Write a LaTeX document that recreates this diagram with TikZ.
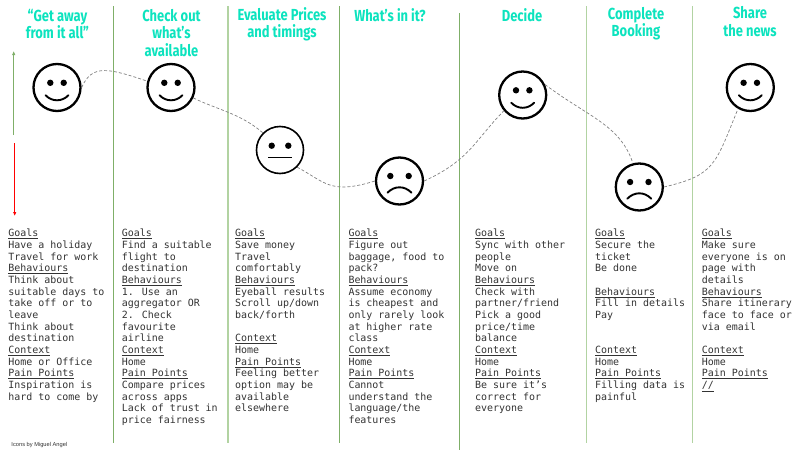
\documentclass[tikz,border=0pt]{standalone}
\usepackage{fontspec}
\usepackage{tikz}
\usetikzlibrary{arrows.meta}
\newfontfamily\titlefont[FakeStretch=0.81]{Fira Sans Bold}
\newfontfamily\bodyfont{DejaVu Sans Mono}
\setmainfont{Liberation Sans}
\definecolor{headcolor}{HTML}{0CE3BE}
\definecolor{ruledark}{HTML}{7FAF68}
\definecolor{rulelight}{HTML}{B2D3A2}
\definecolor{inktext}{HTML}{333333}
\newcommand{\hd}[1]{\underline{#1}}
\tikzset{
    stagetitle/.style={font=\titlefont\fontsize{16}{17.3}\selectfont, text=headcolor, align=center, inner sep=0pt},
    stagetext/.style={font=\bodyfont\fontsize{9.96}{11.67}\selectfont, text=inktext, align=left, anchor=north west, inner sep=0pt},
    facebase/.style={circle, draw=black, line width=2.3pt, minimum size=47pt, inner sep=0pt},
    happyface/.style={facebase, path picture={
        \begin{scope}[shift={(path picture bounding box.center)}]
        \fill (-6.7,-4.7) circle (3.2);
        \fill (6.7,-4.7) circle (3.2);
        \draw[line width=1.9pt, line cap=round] (-11.5,7.7) .. controls (-5,14.5) and (5,14.5) .. (11.5,7.7);
        \end{scope}}},
    neutralface/.style={facebase, line width=1.6pt, path picture={
        \begin{scope}[shift={(path picture bounding box.center)}]
        \fill (-8.3,-4.3) circle (3.2);
        \fill (8.3,-4.3) circle (3.2);
        \draw[line width=1.5pt] (-11.7,7.3) -- (11.7,7.3);
        \end{scope}}},
    sadface/.style={facebase, path picture={
        \begin{scope}[shift={(path picture bounding box.center)}]
        \fill (-9.2,-5) circle (3.2);
        \fill (9.2,-5) circle (3.2);
        \draw[line width=1.9pt, line cap=round] (-12,11.7) .. controls (-5,4.5) and (5,4.5) .. (12,11.7);
        \end{scope}}},
    journey/.style={gray, line width=0.7pt, dashed, dash pattern=on 3pt off 2pt},
}

\begin{document}
\begin{tikzpicture}[x=1pt,y=-1pt]
\useasboundingbox (0,0) rectangle (800,450);

% Stage rules
\foreach \x/\top/\bot/\col/\wid in {
    113.3/6/443/ruledark/0.8, 228/6/443/rulelight/1.3, 339.5/6/443/ruledark/0.9,
    459.5/13/450/ruledark/0.9, 586.3/6/443/rulelight/1.0, 692.8/6/443/rulelight/1.3}{
    \draw[\col, line width=\wid pt] (\x,\top) -- (\x,\bot);
}

% Mood scale
\draw[ruledark, line width=0.8pt, -{Latex[length=4pt,width=3.5pt]}] (13.7,135) -- (13.7,51);
\draw[red, line width=0.8pt, -{Latex[length=4pt,width=3.5pt]}] (14.7,143) -- (14.7,216);

% Stage titles
\node[stagetitle] (titlea) at (57.5,24) {“Get away\\from it all”};
\node[stagetitle] (titleb) at (171.5,33) {Check out\\what’s\\available};
\node[stagetitle] (titlec) at (282,24) {Evaluate Prices\\and timings};
\node[stagetitle] (titled) at (390,15) {What’s in it?};
\node[stagetitle] (titlee) at (522,15) {Decide};
\node[stagetitle] (titlef) at (636,24) {Complete\\Booking};
\node[stagetitle] (titleg) at (750,21.5) {Share\\the news};

% Faces
\node[happyface]   (facea) at (57,87.5) {};
\node[happyface]   (faceb) at (171,87.5) {};
\node[neutralface] (facec) at (280,150) {};
\node[sadface]     (faced) at (399.5,181) {};
\node[happyface]   (facee) at (522.7,95) {};
\node[sadface]     (facef) at (639.3,187) {};
\node[happyface]   (faceg) at (750.3,87.5) {};

% Journey line
\draw[journey] (facea.east) .. controls (92,64) and (108,68) .. (faceb.165);
\draw[journey] (faceb.-25) .. controls (215,109) and (240,113) .. (facec.135);
\draw[journey] (facec.-45) .. controls (325,182) and (330,195) .. (faced.west);
\draw[journey] (faced.east) .. controls (470,160) and (475,140) .. (facee.-140);
\draw[journey] (facee.25) .. controls (590,118) and (620,125) .. (facef.105);
\draw[journey] (facef.east) .. controls (715,175) and (715,165) .. (faceg.-120);

% Stage notes
\node[stagetext] (notea) at (8.3,229) {\hd{Goals}\\Have a holiday\\Travel for work\\\hd{Behaviours}\\Think about\\suitable days to\\take off or to\\leave\\Think about\\destination\\\hd{Context}\\Home or Office\\\hd{Pain Points}\\Inspiration is\\hard to come by};
\node[stagetext] (noteb) at (121.6,229) {\hd{Goals}\\Find a suitable\\flight to\\destination\\\hd{Behaviours}\\1. Use an\\aggregator OR\\2. Check\\favourite\\airline\\\hd{Context}\\Home\\\hd{Pain Points}\\Compare prices\\across apps\\Lack of trust in\\price fairness};
\node[stagetext] (notec) at (235,229) {\hd{Goals}\\Save money\\Travel\\comfortably\\\hd{Behaviours}\\Eyeball results\\Scroll up/down\\back/forth\\~\\\hd{Context}\\Home\\\hd{Pain Points}\\Feeling better\\option may be\\available\\elsewhere};
\node[stagetext] (noted) at (348.3,229) {\hd{Goals}\\Figure out\\baggage, food to\\pack?\\\hd{Behaviours}\\Assume economy\\is cheapest and\\only rarely look\\at higher rate\\class\\\hd{Context}\\Home\\\hd{Pain Points}\\Cannot\\understand the\\language/the\\features};
\node[stagetext] (notee) at (475,229) {\hd{Goals}\\Sync with other\\people\\Move on\\\hd{Behaviours}\\Check with\\partner/friend\\Pick a good\\price/time\\balance\\\hd{Context}\\Home\\\hd{Pain Points}\\Be sure it’s\\correct for\\everyone};
\node[stagetext] (notef) at (595,229) {\hd{Goals}\\Secure the\\ticket\\Be done\\~\\\hd{Behaviours}\\Fill in details\\Pay\\~\\~\\\hd{Context}\\Home\\\hd{Pain Points}\\Filling data is\\painful};
\node[stagetext] (noteg) at (701.6,229) {\hd{Goals}\\Make sure\\everyone is on\\page with\\details\\\hd{Behaviours}\\Share itinerary\\face to face or\\via email\\~\\\hd{Context}\\Home\\\hd{Pain Points}\\\hd{//}};

% Credit
\node[font=\fontsize{5.7}{6}\selectfont, text=inktext, anchor=west, inner sep=0pt] (credit) at (11.3,445.5) {Icons by Miguel Angel};

\end{tikzpicture}
\end{document}
